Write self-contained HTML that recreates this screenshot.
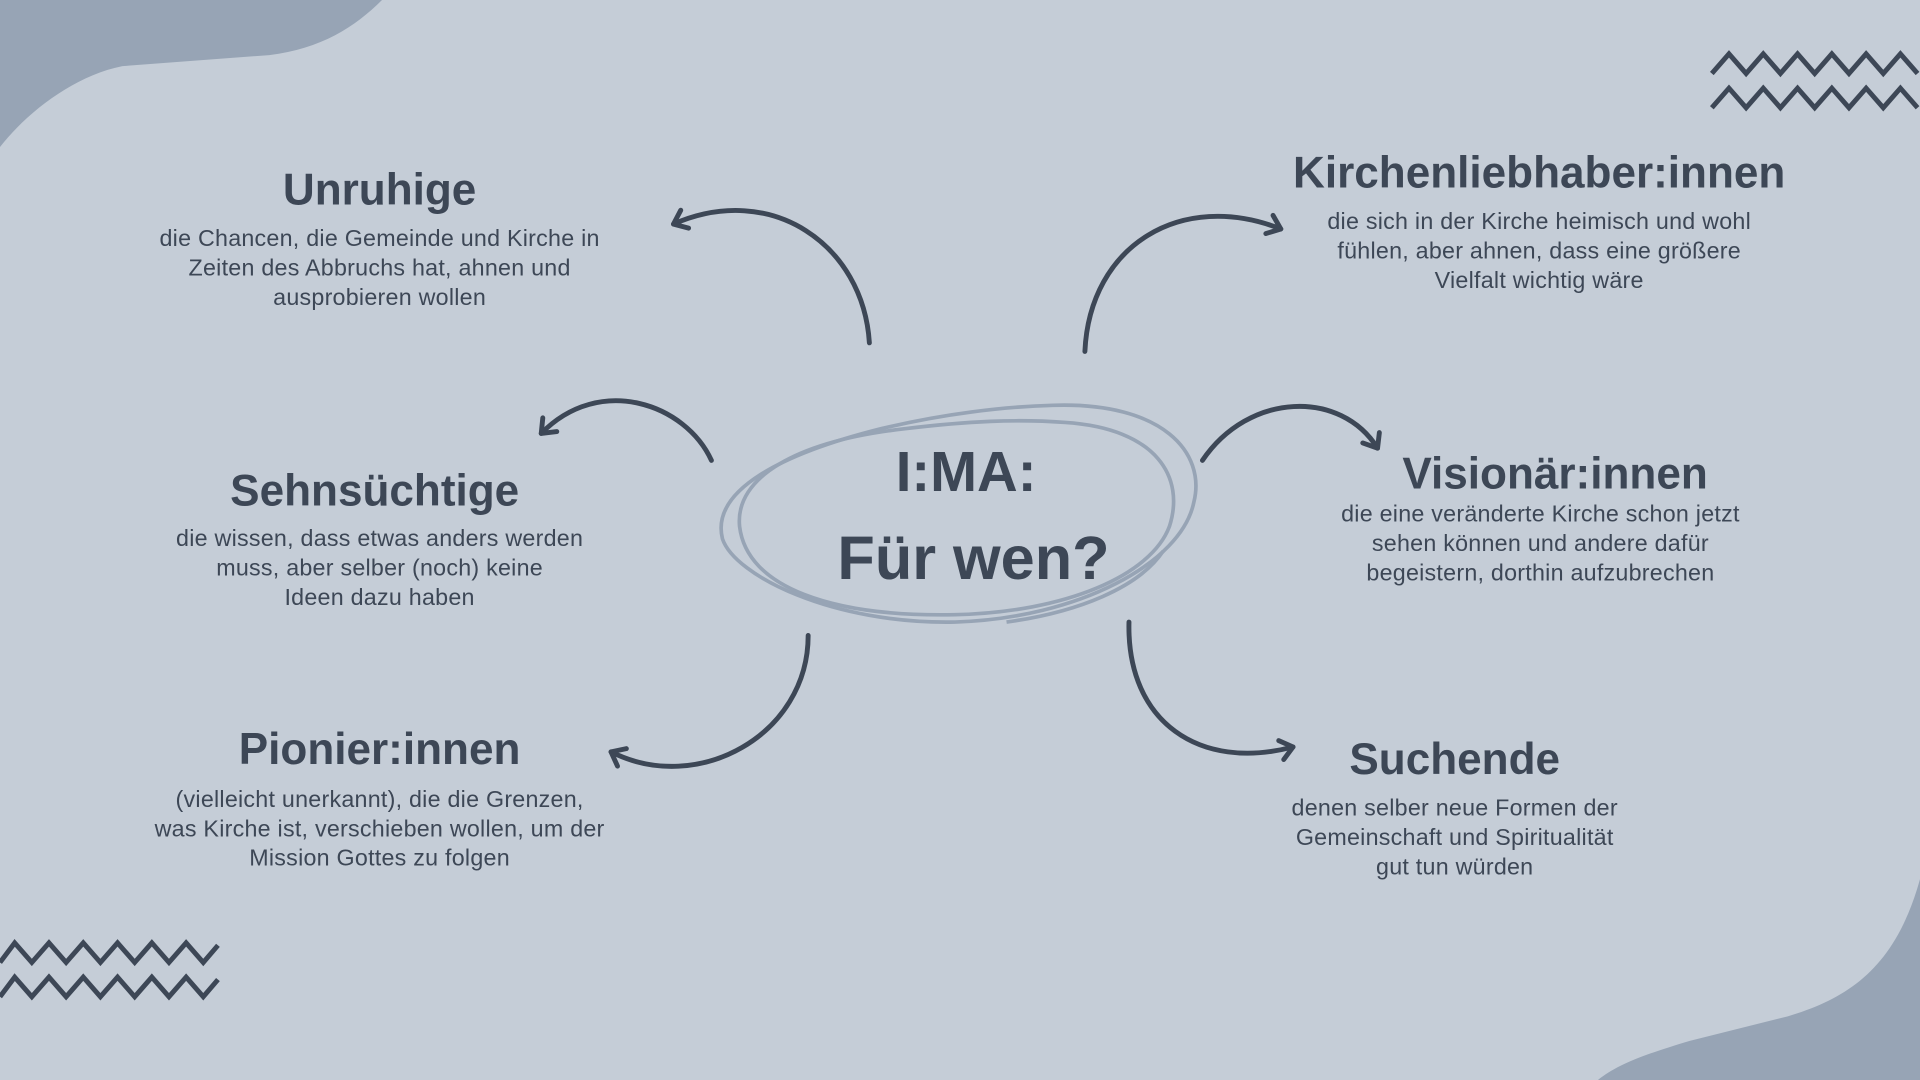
<!DOCTYPE html>
<html><head><meta charset="utf-8"><style>
html,body{margin:0;padding:0;width:1920px;height:1080px;overflow:hidden;background:#c5cdd7}
#s{position:absolute;left:0;top:0;width:1568px;height:882px;transform:scale(1.22449);transform-origin:0 0;font-family:"Liberation Sans",sans-serif;color:#3d4756}
.t{position:absolute;text-align:center;font-weight:bold;font-size:36px;white-space:nowrap;transform:translate(-50%,-50%)}
.d{position:absolute;text-align:center;font-size:19px;line-height:24px;white-space:nowrap;transform:translateX(-50%);letter-spacing:0.2px}
</style></head><body><div id="s">
<svg width="1568" height="882" style="position:absolute;left:0;top:0">
<defs><marker id="a" markerWidth="20" markerHeight="20" refX="0" refY="0" orient="auto" markerUnits="userSpaceOnUse" viewBox="-12 -10 20 20" style="overflow:visible"><polyline points="-10,-8 0,0 -10,8" fill="none" stroke="#3d4756" stroke-width="4" stroke-linecap="round" stroke-linejoin="round"/></marker></defs>
<path d="M0,0 H312 C290,22 262,40 220,45 L100,54 C60,62 22,92 0,120 Z" fill="#97a4b5"/>
<path d="M1568,718 C1548,790 1510,815 1460,830 L1380,850 C1340,862 1320,870 1305,882 H1568 Z" fill="#97a4b5"/>
<g fill="none" stroke="#3d4756" stroke-width="4">
<polyline points="1398,60 1412,44 1426,60 1440,44 1454,60 1468,44 1482,60 1496,44 1510,60 1524,44 1538,60 1552,44 1566,60"/>
<polyline points="1398,88 1412,72 1426,88 1440,72 1454,88 1468,72 1482,88 1496,72 1510,88 1524,72 1538,88 1552,72 1566,88"/>
<polyline points="0,786 12,770 26,786 40,770 54,786 68,770 82,786 96,770 110,786 124,770 138,786 152,770 166,786 178,772"/>
<polyline points="0,814 12,798 26,814 40,798 54,814 68,798 82,814 96,798 110,814 124,798 138,814 152,798 166,814 178,800"/>
</g>
<g fill="none" stroke="#97a4b5" stroke-width="3">
<path d="M860,331 C950,328 985,370 975,410 C965,460 880,505 780,508 C680,510 600,470 590,440 C580,400 640,370 720,350 C770,338 820,332 860,331 Z"/>
<path d="M870,345 C945,350 968,390 955,430 C940,470 870,500 780,502 C680,504 610,480 604,430 C600,390 650,360 740,350 C790,344 830,342 870,345 Z"/>
<path d="M822,508 C880,500 930,480 950,450"/>
</g>
<g fill="none" stroke="#3d4756" stroke-width="4" stroke-linecap="round">
<path d="M710,280 C705,200 630,148 550,183" marker-end="url(#a)"/>
<path d="M886,287 C890,200 965,155 1046,187" marker-end="url(#a)"/>
<path d="M581,376 C560,330 490,305 442,354" marker-end="url(#a)"/>
<path d="M982,376 C1020,320 1095,318 1125,366" marker-end="url(#a)"/>
<path d="M660,519 C660,600 570,650 499,614" marker-end="url(#a)"/>
<path d="M922,508 C920,590 980,630 1056,610" marker-end="url(#a)"/>
</g>
</svg>
<div class="t" style="left:789px;top:385px;font-size:46px">I:MA:</div>
<div class="t" style="left:795px;top:456px;font-size:50px">Für wen?</div>

<div class="t" style="left:310px;top:155px">Unruhige</div>
<div class="d" style="left:310px;top:184px">die Chancen, die Gemeinde und Kirche in<br>Zeiten des Abbruchs hat, ahnen und<br>ausprobieren wollen</div>

<div class="t" style="left:306px;top:401px">Sehnsüchtige</div>
<div class="d" style="left:310px;top:429px">die wissen, dass etwas anders werden<br>muss, aber selber (noch) keine<br>Ideen dazu haben</div>

<div class="t" style="left:310px;top:612px">Pionier:innen</div>
<div class="d" style="left:310px;top:642px">(vielleicht unerkannt), die die Grenzen,<br>was Kirche ist, verschieben wollen, um der<br>Mission Gottes zu folgen</div>

<div class="t" style="left:1257px;top:141px">Kirchenliebhaber:innen</div>
<div class="d" style="left:1257px;top:170px">die sich in der Kirche heimisch und wohl<br>fühlen, aber ahnen, dass eine größere<br>Vielfalt wichtig wäre</div>

<div class="t" style="left:1270px;top:387px">Visionär:innen</div>
<div class="d" style="left:1258px;top:409px">die eine veränderte Kirche schon jetzt<br>sehen können und andere dafür<br>begeistern, dorthin aufzubrechen</div>

<div class="t" style="left:1188px;top:620px">Suchende</div>
<div class="d" style="left:1188px;top:649px">denen selber neue Formen der<br>Gemeinschaft und Spiritualität<br>gut tun würden</div>
</div></body></html>
